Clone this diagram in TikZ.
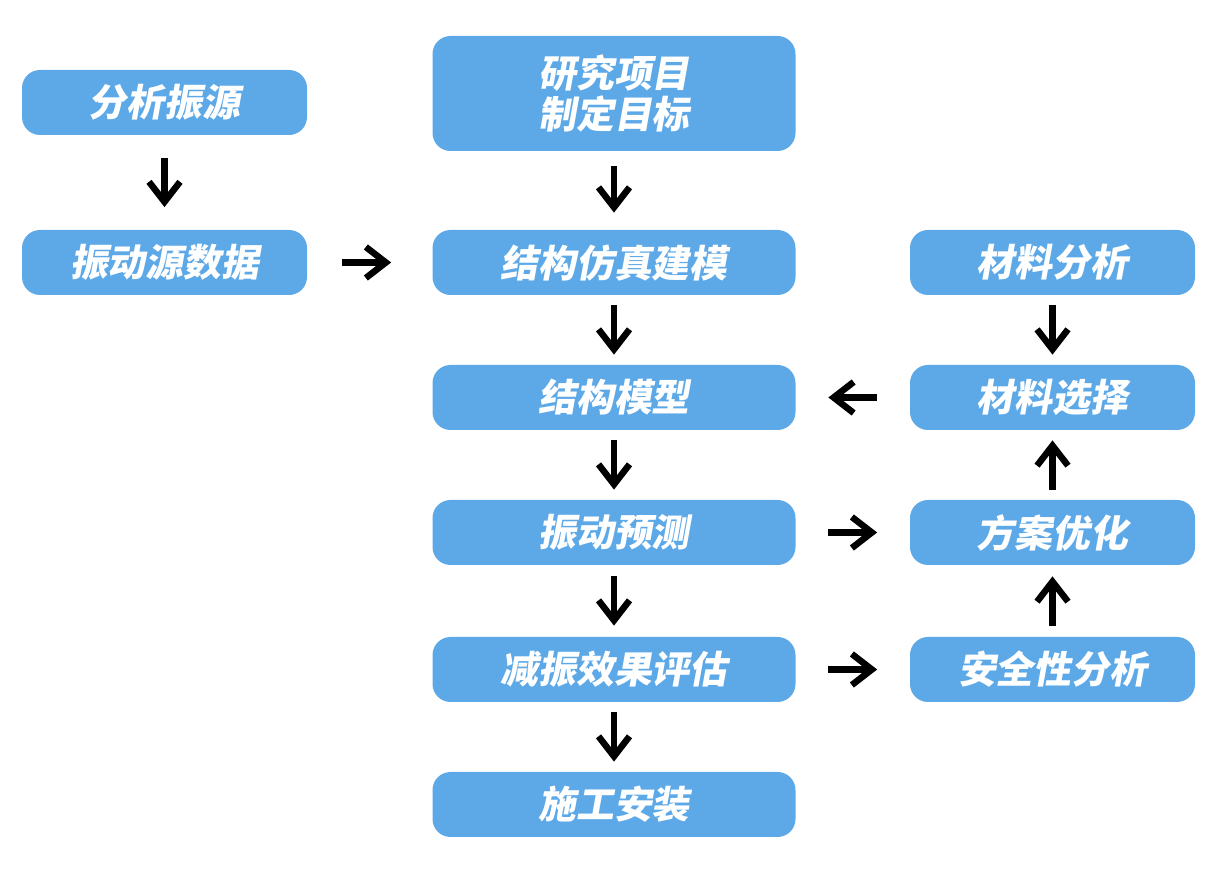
\documentclass[tikz,border=0pt]{standalone}
\usepackage{fontspec}
\newfontfamily\cjkfont[FakeSlant=0.18]{Noto Sans CJK SC}
\usetikzlibrary{arrows.meta}
\definecolor{boxblue}{RGB}{93,169,232}
\tikzset{
  box/.style={fill=boxblue, rounded corners=0.36cm, minimum height=1.3cm, text=white,
    font=\cjkfont\bfseries\fontsize{21.5pt}{23pt}\selectfont, align=center, inner sep=0pt},
  side/.style={box, minimum width=5.7cm},
  mid/.style={box, minimum width=7.26cm},
  arr/.style={-{Straight Barb[length=0.4cm,width=0.62cm,line join=miter]}, line width=0.13cm},
  trim/.style={shorten <=#1, shorten >=#1}
}
\begin{document}
\begin{tikzpicture}
\useasboundingbox (0,0) rectangle (24.6,17.7);

%left column
\node [side] (source) at (3.29,15.65){分析振源};
\node [side] (srcdata) at (3.29,12.45){振动源数据};

%middle column
\node [mid, minimum height=2.3cm] (goal) at (12.28,15.83){研究项目\\制定目标};
\node [mid] (simmodel) at (12.28,12.45){结构仿真建模};
\node [mid] (model) at (12.28,9.75){结构模型};
\node [mid] (predict) at (12.28,7.05){振动预测};
\node [mid] (assess) at (12.28,4.31){减振效果评估};
\node [mid] (install) at (12.28,1.61){施工安装};

%right column
\node [side] (matana) at (21.05,12.45){材料分析};
\node [side] (matsel) at (21.05,9.75){材料选择};
\node [side] (optim) at (21.05,7.05){方案优化};
\node [side] (safety) at (21.05,4.31){安全性分析};

% arrows
\draw [arr, trim=0.45cm] (source) -- (srcdata);
\draw [arr, shorten <=0.7cm, shorten >=0.82cm] (srcdata) -- (simmodel);
\draw [arr, shorten <=0.3cm, shorten >=0.34cm] (goal) -- (simmodel);
\draw [arr, trim=0.2cm] (simmodel) -- (model);
\draw [arr, trim=0.2cm] (model) -- (predict);
\draw [arr, trim=0.22cm] (predict) -- (assess);
\draw [arr, trim=0.2cm] (assess) -- (install);

\draw [arr, trim=0.2cm] (matana) -- (matsel);
\draw [arr, trim=0.65cm] (matsel) -- (model);
\draw [arr, trim=0.2cm] (optim) -- (matsel);
\draw [arr, trim=0.22cm] (safety) -- (optim);
\draw [arr, trim=0.65cm] (predict) -- (optim);
\draw [arr, trim=0.65cm] (assess) -- (safety);
\end{tikzpicture}
\end{document}
